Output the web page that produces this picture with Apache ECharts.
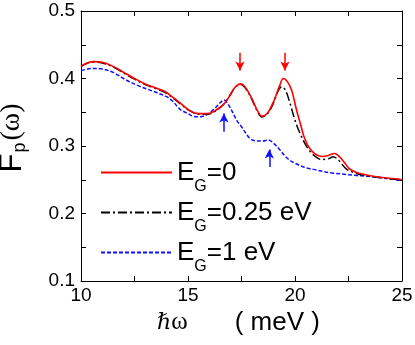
<!DOCTYPE html>
<html>
<head>
<meta charset="utf-8">
<script src="https://cdn.jsdelivr.net/npm/echarts@6/dist/echarts.min.js"></script>
<style>
html,body{margin:0;padding:0;background:#fff;}
#chart{width:415px;height:345px;}
</style>
</head>
<body>
<div id="chart"></div>
<script>
// ---- data ----
var seriesNames = ['E_G=0', 'E_G=0.25 eV', 'E_G=1 eV'];

var redX = [10.0,10.3,10.6,11.0,11.5,12.0,12.5,13.0,13.5,13.9,14.3,14.7,15.1,15.5,15.9,16.3,16.7,17.0,17.2,17.45,17.7,18.0,18.25,18.45,18.7,19.0,19.3,19.45,19.65,19.85,20.05,20.25,20.45,20.7,21.0,21.3,21.55,21.85,22.05,22.3,22.55,22.9,23.3,23.8,24.3,24.8,25.0];
var redY = [0.418,0.423,0.425,0.424,0.418,0.409,0.400,0.392,0.386,0.381,0.372,0.362,0.352,0.348,0.348,0.353,0.363,0.377,0.387,0.392,0.386,0.369,0.352,0.344,0.348,0.366,0.391,0.400,0.395,0.382,0.356,0.333,0.311,0.296,0.287,0.2845,0.286,0.289,0.285,0.276,0.266,0.2605,0.2575,0.2545,0.2525,0.251,0.2495];

var blackX = [10.0,10.3,10.6,11.0,11.5,12.0,12.5,13.0,13.5,13.9,14.3,14.7,15.1,15.5,15.9,16.3,16.7,17.0,17.2,17.45,17.7,18.0,18.25,18.45,18.7,19.0,19.2,19.38,19.55,19.77,20.0,20.23,20.55,20.86,21.25,21.55,21.79,22.0,22.42,22.9,23.3,23.8,24.3,24.8,25.0];
var blackY = [0.418,0.423,0.424,0.423,0.417,0.408,0.399,0.391,0.385,0.380,0.371,0.361,0.352,0.347,0.347,0.352,0.363,0.377,0.387,0.391,0.385,0.368,0.351,0.343,0.347,0.364,0.381,0.388,0.383,0.363,0.338,0.319,0.299,0.2867,0.280,0.281,0.284,0.280,0.2655,0.259,0.2565,0.254,0.252,0.2505,0.2495];

var blueX = [10.0,10.3,10.6,11.0,11.5,12.1,12.7,13.3,13.7,14.0,14.3,14.6,15.0,15.25,15.55,15.8,16.05,16.3,16.5,16.68,16.85,17.05,17.3,17.5,17.9,18.2,18.5,18.75,19.0,19.3,19.6,19.8,20.2,20.6,21.0,21.6,22.2,22.8,23.4,24.0,24.5,25.0];
var blueY = [0.4116,0.414,0.415,0.414,0.409,0.398,0.389,0.382,0.377,0.373,0.366,0.355,0.348,0.344,0.3435,0.345,0.350,0.357,0.364,0.368,0.363,0.352,0.337,0.3286,0.311,0.3075,0.3075,0.309,0.304,0.294,0.283,0.278,0.2715,0.267,0.2645,0.2605,0.2585,0.2565,0.255,0.253,0.251,0.249];

// annotation arrows: [x, yTail, yHead]
var redArrows = [[17.43, 0.438, 0.412], [19.53, 0.438, 0.412]];
var blueArrows = [[16.68, 0.321, 0.348], [18.80, 0.269, 0.295]];

var xTicks = {min: 10, max: 25, interval: 5};
var yTicks = {min: 0.1, max: 0.5, interval: 0.1};

function pairs(xs, ys) { return xs.map(function (x, i) { return [x, ys[i]]; }); }
function arrowLines(arr) {
  return arr.map(function (a) { return [{coord: [a[0], a[1]]}, {coord: [a[0], a[2]]}]; });
}

var chart = echarts.init(document.getElementById('chart'), null, {renderer: 'canvas'});
var FONT = 'Liberation Sans';
function ticks() {
  return {
    axisLine: {show: true, onZero: false, lineStyle: {color: '#000', width: 1}},
    axisTick: {show: true, inside: true, length: 5, lineStyle: {color: '#000', width: 1}},
    minorTick: {show: true, splitNumber: 2, length: 5, lineStyle: {color: '#000', width: 1}},
    splitLine: {show: false},
    minorSplitLine: {show: false}
  };
}
function ax(base, extra) { return Object.assign({}, base, extra); }

var option = {
  animation: false,
  backgroundColor: '#fff',
  grid: {left: 81, right: 13, top: 11, bottom: 64, containLabel: false, outerBoundsMode: 'none'},
  xAxis: [
    ax(ticks(), {type: 'value', position: 'bottom', min: xTicks.min, max: xTicks.max, interval: xTicks.interval,
      axisLabel: {show: true, color: '#000', fontFamily: FONT, fontSize: 19, margin: 5},
      name: '{h|ℏ}{w|ω}{u|( meV )}', nameLocation: 'middle', nameGap: 25,
      nameTextStyle: {rich: {
        h: {fontFamily: 'DejaVu Serif', fontStyle: 'italic', fontSize: 22, color: '#000'},
        w: {fontFamily: 'Liberation Serif', fontSize: 25, color: '#000'},
        u: {fontFamily: FONT, fontSize: 26, color: '#000', padding: [0, 6, 0, 47]}
      }}}),
    ax(ticks(), {type: 'value', position: 'top', min: xTicks.min, max: xTicks.max, interval: xTicks.interval,
      axisLabel: {show: false}})
  ],
  yAxis: [
    ax(ticks(), {type: 'value', position: 'left', min: yTicks.min, max: yTicks.max, interval: yTicks.interval,
      axisLabel: {show: true, color: '#000', fontFamily: FONT, fontSize: 19, margin: 6,
        formatter: function (v) { return v.toFixed(1); }},
      name: '{f|F}{p|p}{w|(ω)}', nameLocation: 'middle', nameGap: 52,
      nameTextStyle: {rich: {
        f: {fontFamily: FONT, fontSize: 31, color: '#000', padding: [0, 0, 0, 16]},
        p: {fontFamily: FONT, fontSize: 18, color: '#000', padding: [16, 0, 0, 1]},
        w: {fontFamily: 'Liberation Serif', fontSize: 28, color: '#000', padding: [0, 0, 0, 2]}
      }}}),
    ax(ticks(), {type: 'value', position: 'right', min: yTicks.min, max: yTicks.max, interval: yTicks.interval,
      axisLabel: {show: false}})
  ],
  legend: {
    show: true, orient: 'vertical', left: 95, top: 145.5,
    itemWidth: 71, itemHeight: 14, itemGap: -4,
    itemStyle: {opacity: 0, color: 'rgba(0,0,0,0)', borderWidth: 0},
    data: seriesNames,
    formatter: function (name) { return '{e|E}{g|G}{e|' + name.replace('E_G', '') + '}'; },
    textStyle: {
      color: '#000',
      rich: {
        e: {fontFamily: FONT, fontSize: 26, lineHeight: 44, color: '#000'},
        g: {fontFamily: FONT, fontSize: 16, lineHeight: 16, color: '#000', padding: [28, 0, 0, 0]}
      }
    }
  },
  series: [
    {
      name: seriesNames[0], type: 'line', data: pairs(redX, redY), symbol: 'none', smooth: 0.35,
      lineStyle: {color: '#ff0000', width: 1.6, type: 'solid'}, itemStyle: {color: '#ff0000'}, z: 3,
      markLine: {silent: true, symbol: ['none', 'arrow'], symbolSize: [7, 9],
        label: {show: false}, lineStyle: {color: '#ff0000', width: 1.5, type: 'solid'},
        data: arrowLines(redArrows)}
    },
    {
      name: seriesNames[1], type: 'line', data: pairs(blackX, blackY), symbol: 'none', smooth: 0.35,
      lineStyle: {color: '#000000', width: 1.5, type: [9, 3, 2, 3]}, itemStyle: {color: '#000000'}, z: 2
    },
    {
      name: seriesNames[2], type: 'line', data: pairs(blueX, blueY), symbol: 'none', smooth: 0.35,
      lineStyle: {color: '#1010ff', width: 1.5, type: [4, 2]}, itemStyle: {color: '#1010ff'}, z: 1,
      markLine: {silent: true, symbol: ['none', 'arrow'], symbolSize: [7, 9],
        label: {show: false}, lineStyle: {color: '#1010ff', width: 1.5, type: 'solid'},
        data: arrowLines(blueArrows)}
    }
  ]
};
chart.setOption(option);
</script>
</body>
</html>
